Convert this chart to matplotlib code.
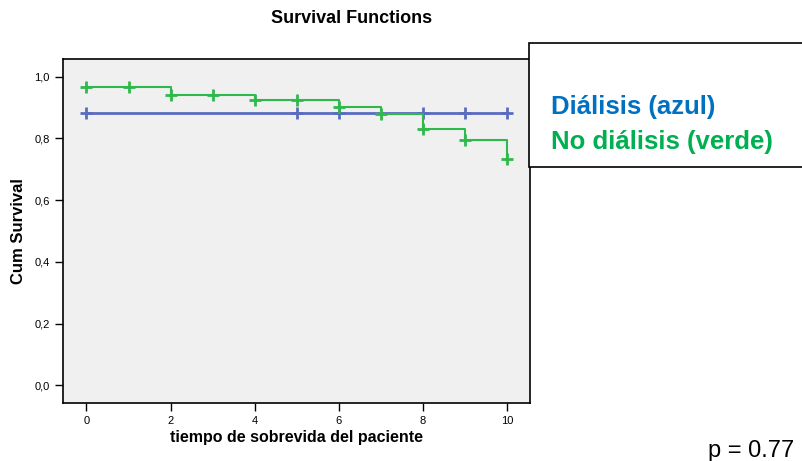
import matplotlib
matplotlib.use("Agg")
import matplotlib.pyplot as plt
from matplotlib.patches import Rectangle
from matplotlib.ticker import FuncFormatter

plt.rcParams['font.family'] = ['Liberation Sans', 'DejaVu Sans']

# Kaplan-Meier step values
green_times = [0, 2, 4, 6, 7, 8, 9, 10]
green_surv = [0.967, 0.939, 0.923, 0.902, 0.880, 0.831, 0.795, 0.732]
green_cens_t = [0, 1, 2, 3, 4, 5, 6, 7, 8, 9, 10]
green_cens_s = [0.967, 0.967, 0.939, 0.939, 0.923, 0.923, 0.902, 0.880, 0.831, 0.795, 0.732]

blue_times = [0, 10]
blue_surv = [0.883, 0.883]
blue_cens_t = [0, 5, 6, 8, 9, 10]
blue_cens_s = [0.883] * 6

x_ticks = [0, 2, 4, 6, 8, 10]
y_ticks = [0.0, 0.2, 0.4, 0.6, 0.8, 1.0]

blue = "#5a6cbf"
green = "#2fb84c"

fig = plt.figure(figsize=(8.02, 4.61), dpi=100)
ax = fig.add_axes([0.0786, 0.1258, 0.5825, 0.7462])
ax.set_facecolor("#f0f0f0")

ax.step(blue_times, blue_surv, where="post", color=blue, lw=2)
ax.plot(blue_cens_t, blue_cens_s, "+", color=blue, ms=8, mew=2)
ax.step(green_times, green_surv, where="post", color=green, lw=1.5)
ax.plot(green_cens_t, green_cens_s, "+", color=green, ms=8, mew=2)

ax.set_xlim(-0.557, 10.55)
ax.set_ylim(-0.057, 1.057)
ax.set_xticks(x_ticks)
ax.set_yticks(y_ticks)
ax.yaxis.set_major_formatter(FuncFormatter(lambda v, p: f"{v:.1f}".replace(".", ",")))
ax.tick_params(length=6, width=1, labelsize=8, colors="black")
for s in ax.spines.values():
    s.set_linewidth(1.2)

ax.set_xlabel("tiempo de sobrevida del paciente", fontsize=11.5, fontweight="bold", labelpad=3)
fig.text(19 / 802, 1 - 231 / 461, "Cum Survival", fontsize=12, fontweight="bold",
         rotation=90, ha="center", va="center")
fig.text(352 / 802, 1 - 23 / 461, "Survival Functions", fontsize=13, fontweight="bold",
         ha="center", va="baseline")

# legend box drawn on the figure, over the plot edge
fig.patches.append(Rectangle((0.6596, 0.6377), 0.4, 0.269, transform=fig.transFigure,
                             facecolor="white", edgecolor="black", lw=1.2, zorder=5))
fig.text(0.687, 0.7686, "Diálisis (azul)", color="#0070c0", fontsize=18.5,
         fontweight="bold", va="center", zorder=6)
fig.text(0.687, 0.6926, "No diálisis (verde)", color="#00b050", fontsize=18.5,
         fontweight="bold", va="center", zorder=6)

fig.text(708 / 802, 4 / 461, "p = 0.77", fontsize=17, va="baseline")

fig.savefig("out.png", dpi=100)
